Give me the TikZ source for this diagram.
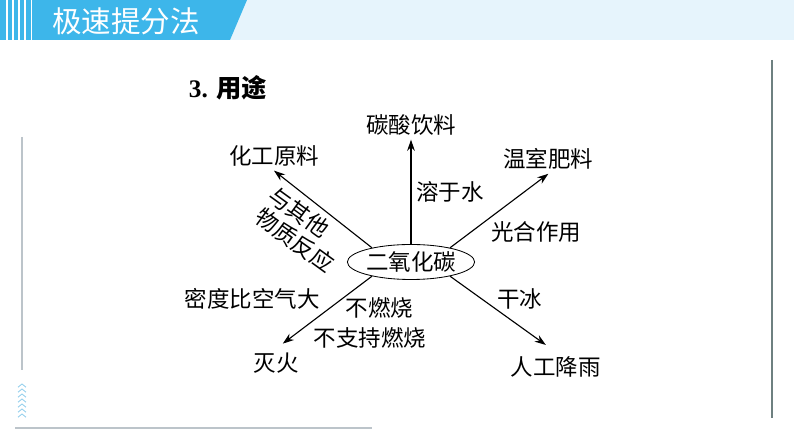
\documentclass[tikz,border=0pt]{standalone}
\usepackage{fontspec}
\setmainfont{Liberation Serif}
\newfontfamily\cjk{Noto Sans CJK SC}
\usetikzlibrary{arrows.meta,shapes.geometric}
\definecolor{bandblue}{HTML}{3DB6EA}
\definecolor{bandlight}{HTML}{E6F4FC}
\definecolor{rulegray}{HTML}{BCC4CA}
\definecolor{edgegray}{HTML}{6E8080}
\definecolor{chevblue}{HTML}{8FCDEB}

\begin{document}
\begin{tikzpicture}[
	lbl/.style={font=\cjk\fontsize{16}{18.5}\selectfont, inner sep=0.1cm},
	pfeil/.style={line width=0.8pt, -{Stealth[length=8pt,width=5.5pt]}},
	]
	\useasboundingbox (0,0) rectangle (19.85,11.175);
	\fill[bandlight] (0,10.175) rectangle (19.85,11.175);
	\fill[bandblue] (0,11.175)--(6.175,11.175)--(5.75,10.175)--(0,10.175)--cycle;
	\foreach \x in {0.18,0.33,0.48,0.63,0.79}
		\draw[white, line width=1.2pt] (\x,10.175)--(\x,11.175);
	\node[white, font=\cjk\fontsize{21}{24}\selectfont] (kopf) at (3.15,10.65){极速提分法};
	\draw[rulegray, line width=1.3pt] (0.55,7.75)--(0.55,1.925);
	\draw[rulegray, line width=1.5pt] (0.375,0.475)--(9.3,0.475);
	\draw[edgegray, line width=0.8pt] (19.3,9.675)--(19.3,0.725);
	\foreach \i in {0,...,6}
		\draw[chevblue, line width=0.6pt] (0.45,0.745+\i*0.125)--(0.55,0.825+\i*0.125)--(0.65,0.745+\i*0.125);
	\node[anchor=west, font=\fontsize{18}{21}\selectfont] (titel) at (4.6,8.975){\textbf{3.} {\cjk\bfseries 用途}};
	\node[lbl, draw, ellipse, line width=0.6pt, minimum width=2.85cm, minimum height=0.875cm, inner sep=0pt] (co) at (10.275,4.625){二氧化碳};
	\node[lbl] (yinliao) at (10.275,8.05){碳酸饮料};
	\node[lbl] (feiliao) at (13.71,7.2){温室肥料};
	\node[lbl] (yuanliao) at (6.85,7.275){化工原料};
	\node[lbl] (miehuo) at (6.91,2.1){灭火};
	\node[lbl] (jiangyu) at (13.89,2.01){人工降雨};
	\draw[pfeil] (co.north)--(yinliao.south);
	\draw[pfeil] (co.20)--(feiliao.south);
	\draw[pfeil] (co.160)--(yuanliao.south);
	\draw[pfeil, shorten >=0.2cm] (co.200)--(miehuo.north);
	\draw[pfeil, shorten >=0.3cm] (co.340)--(jiangyu.north);
	\node[lbl] (rongyu) at (11.25,6.375){溶于水};
	\node[lbl] (guanghe) at (13.41,5.375){光合作用};
	\node[lbl, rotate=-36, inner sep=0pt] (fanyingA) at (7.475,5.875){与其他};
	\node[lbl, rotate=-36, inner sep=0pt] (fanyingB) at (7.375,5.1625){物质反应};
	\node[lbl] (midu) at (6.31,3.7){密度比空气大};
	\node[lbl] (buran) at (9.49,3.475){不燃烧};
	\node[lbl] (buzhichi) at (9.25,2.725){不支持燃烧};
	\node[lbl] (ganbing) at (12.99,3.7){干冰};
\end{tikzpicture}
\end{document}
